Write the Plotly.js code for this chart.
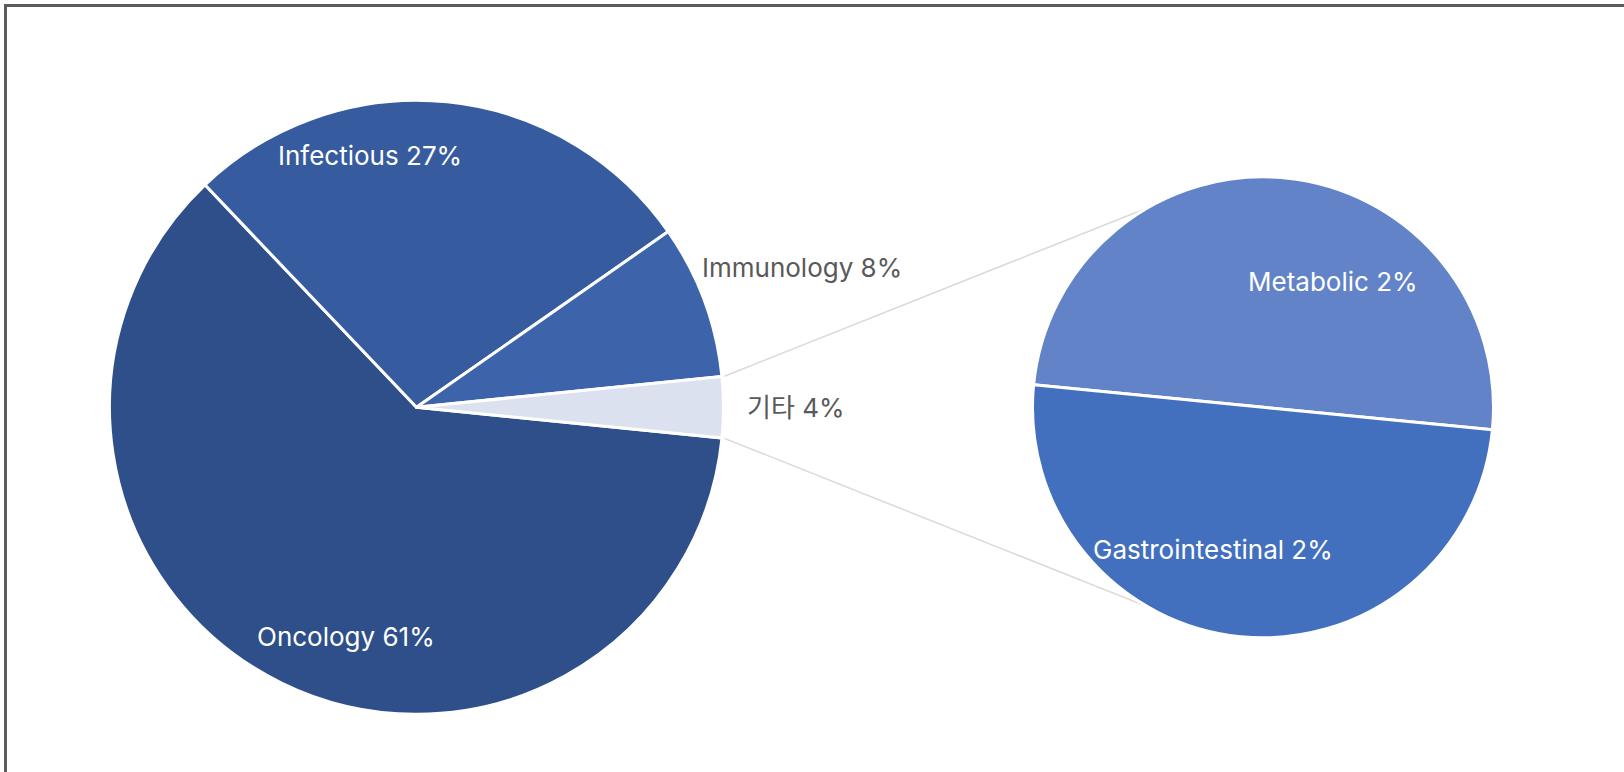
<!DOCTYPE html>
<html>
<head>
<meta charset="utf-8">
<script src="https://cdn.plot.ly/plotly-3.0.1.min.js"></script>
<style>
html, body { margin: 0; padding: 0; background: #ffffff; overflow: hidden; }
#chart { position: absolute; left: 0; top: 0; width: 1624px; height: 772px; }
#frame { position: absolute; left: 4px; top: 4px; width: 2000px; height: 2000px;
         border: 3px solid #5b5b5b; box-sizing: border-box; pointer-events: none; }
</style>
</head>
<body>
<div id="chart"></div>
<div id="frame"></div>
<script>
// ---- data ----
const mainLabels = ['Oncology', 'Infectious', 'Immunology'];
const mainValues = [61.3, 27.4, 8.1];
const otherLabel = '기타';
const subLabels = ['Metabolic', 'Gastrointestinal'];
const subValues = [1.6, 1.6];

// ---- style ----
const mainColors = ['#2e4f89', '#365b9e', '#3d64ab'];
const otherColor = '#dce1ef';
const subColors = ['#6283c8', '#4270be'];
const FONT = 'Inter, "Noto Sans CJK KR", sans-serif';
const W = 1624, H = 772;

// pie geometry (pixels)
const C1 = {x: 416.5, y: 407.3}, R1 = 304.5;
const C2 = {x: 1263, y: 407.3}, R2 = 228;
const EDGE_PAD = 2.5;   // compensates for the white outline eating into the fill
const subRotation = -84.4;

// label placement: [angle (deg, math), radius factor, inside?]
const mainLabelPlace = [[252.9, 0.789, true], [100.4, 0.842, true], [19.9, 1.346, false]];
const otherLabelPlace = [0, 1.246, false];
const subLabelPlace = [[60.8, 0.63, true], [250.7, 0.663, true]];

// ---- derived ----
const otherValue = subValues.reduce((a, b) => a + b, 0);
const allLabels = mainLabels.concat([otherLabel]);
const allValues = mainValues.concat([otherValue]);
const total = allValues.reduce((a, b) => a + b, 0);
const pct = v => Math.round(v / total * 100);
const subPct = subValues.map(pct);
const allPct = mainValues.map(pct).concat([subPct.reduce((a, b) => a + b, 0)]);
const otherHalfDeg = otherValue / total * 180;

function domainFor(c, r) {
  const rr = r + EDGE_PAD;
  return {
    x: [(c.x - rr) / W, (c.x + rr) / W],
    y: [1 - (c.y + rr) / H, 1 - (c.y - rr) / H]
  };
}

const lineStyle = {color: '#ffffff', width: 3};

const traceMain = {
  type: 'pie',
  labels: allLabels,
  values: allValues,
  sort: false,
  direction: 'clockwise',
  rotation: 90 + otherHalfDeg,
  domain: domainFor(C1, R1),
  marker: {colors: mainColors.concat([otherColor]), line: lineStyle},
  textinfo: 'none',
  hoverinfo: 'label+percent',
  showlegend: false
};

const traceSub = {
  type: 'pie',
  labels: subLabels,
  values: subValues,
  sort: false,
  direction: 'clockwise',
  rotation: subRotation,
  domain: domainFor(C2, R2),
  marker: {colors: subColors, line: lineStyle},
  textinfo: 'none',
  hoverinfo: 'label+value',
  showlegend: false
};

// connector lines: from edges of the "other" slice, tangent to the sub pie
function tangentPoint(p, c, r, upper) {
  const vx = p.x - c.x, vy = p.y - c.y;
  const d = Math.hypot(vx, vy);
  const th = Math.atan2(vy, vx);
  const a = Math.acos(r / d);
  const t1 = {x: c.x + r * Math.cos(th + a), y: c.y + r * Math.sin(th + a)};
  const t2 = {x: c.x + r * Math.cos(th - a), y: c.y + r * Math.sin(th - a)};
  if (upper) return t1.y < t2.y ? t1 : t2;
  return t1.y > t2.y ? t1 : t2;
}
const h = otherHalfDeg * Math.PI / 180;
const rStart = R1 + 5;
const pTop = {x: C1.x + rStart * Math.cos(h), y: C1.y - rStart * Math.sin(h)};
const pBot = {x: C1.x + rStart * Math.cos(h), y: C1.y + rStart * Math.sin(h)};
const tTop = tangentPoint(pTop, C2, R2, true);
const tBot = tangentPoint(pBot, C2, R2, false);
const toPaper = p => ({x: p.x / W, y: 1 - p.y / H});
function connector(a, b) {
  const A = toPaper(a), B = toPaper(b);
  return {type: 'line', xref: 'paper', yref: 'paper', x0: A.x, y0: A.y, x1: B.x, y1: B.y,
          layer: 'below', line: {color: '#d9d9d9', width: 1.5}};
}

// labels
function labelAnn(c, r, place, text) {
  const a = place[0] * Math.PI / 180;
  const px = c.x + r * place[1] * Math.cos(a);
  const py = c.y - r * place[1] * Math.sin(a);
  const P = toPaper({x: px, y: py});
  return {
    xref: 'paper', yref: 'paper', x: P.x, y: P.y, text: text, showarrow: false,
    xanchor: 'center', yanchor: 'middle',
    font: {family: FONT, size: 26, color: place[2] ? '#ffffff' : '#595959'}
  };
}
const annotations = [];
mainLabels.forEach((l, i) => annotations.push(labelAnn(C1, R1, mainLabelPlace[i], l + ' ' + allPct[i] + '%')));
annotations.push(labelAnn(C1, R1, otherLabelPlace, otherLabel + ' ' + allPct[3] + '%'));
subLabels.forEach((l, i) => annotations.push(labelAnn(C2, R2, subLabelPlace[i], l + ' ' + subPct[i] + '%')));

const layout = {
  width: W, height: H,
  margin: {l: 0, r: 0, t: 0, b: 0, pad: 0},
  paper_bgcolor: 'rgba(0,0,0,0)',
  plot_bgcolor: 'rgba(0,0,0,0)',
  showlegend: false,
  font: {family: FONT},
  shapes: [connector(pTop, tTop), connector(pBot, tBot)],
  annotations: annotations
};

Plotly.newPlot('chart', [traceMain, traceSub], layout, {displayModeBar: false, staticPlot: true});
</script>
</body>
</html>
